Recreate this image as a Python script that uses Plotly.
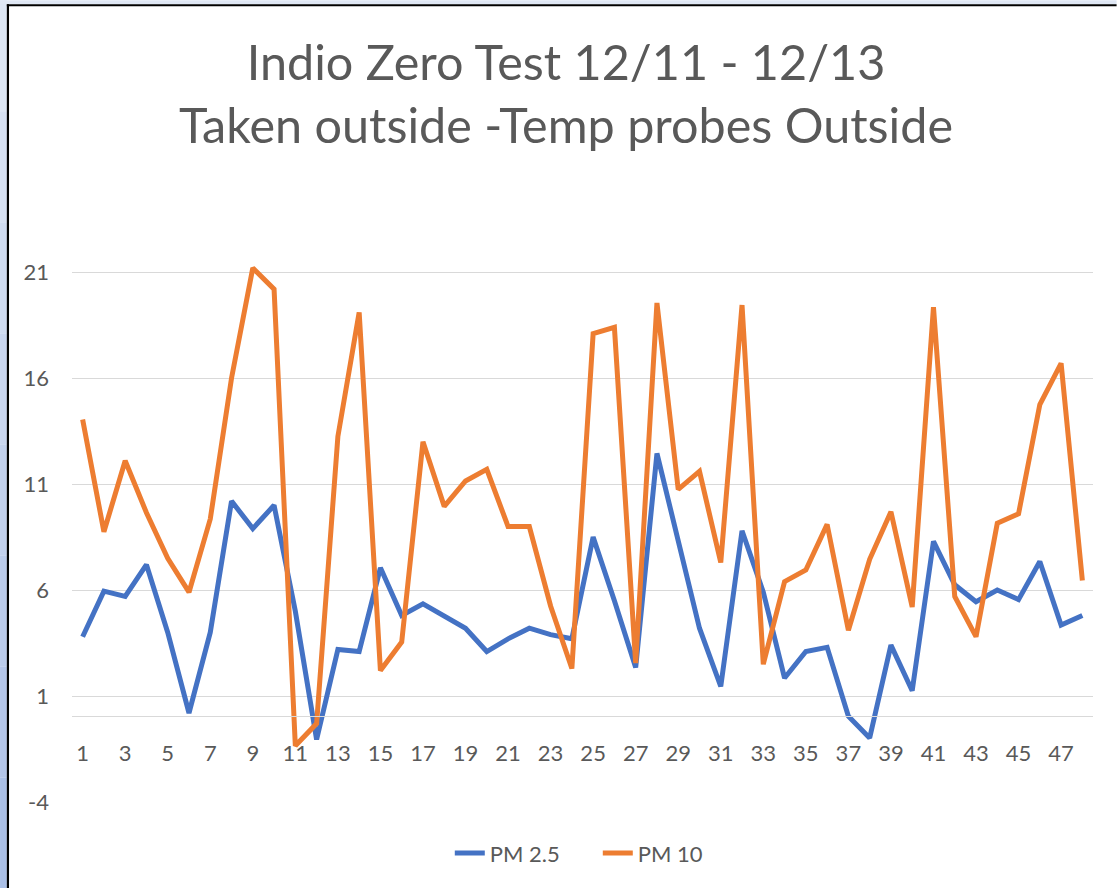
import plotly.graph_objects as go

categories = [str(i) for i in range(1, 49)]

pm25 = [3.8, 5.95, 5.7, 7.2, 4.0, 0.2, 4.0, 10.2, 8.9, 10.0,
        5.0, -1.05, 3.2, 3.1, 7.05, 4.8, 5.35, 4.8, 4.2, 3.1,
        3.7, 4.2, 3.9, 3.7, 8.5, 5.5, 2.35, 12.45, 8.2, 4.2,
        1.45, 8.8, 5.9, 1.85, 3.1, 3.3, 0.05, -0.98, 3.4, 1.25,
        8.3, 6.25, 5.45, 6.0, 5.55, 7.35, 4.35, 4.8]

pm10 = [14.05, 8.75, 12.1, 9.65, 7.5, 5.9, 9.35, 16.0, 21.2, 20.2,
        -1.35, -0.3, 13.25, 19.1, 2.2, 3.55, 13.0, 9.95, 11.15, 11.7,
        9.0, 9.0, 5.25, 2.3, 18.1, 18.4, 2.55, 19.55, 10.75, 11.6,
        7.3, 19.45, 2.5, 6.4, 6.95, 9.1, 4.1, 7.45, 9.7, 5.2,
        19.35, 5.7, 3.8, 9.15, 9.6, 14.75, 16.7, 6.45]

y_ticks = [-4, 1, 6, 11, 16, 21]
y_tick_text = ["-4", "1", "6", "11", "16", "21"]

W, H = 1117, 888
L, R, T, B = 72, 1093.4, 250.8, 801.7

def px(p):
    return (p - L) / (R - L)

def py(q):
    return (B - q) / (B - T)

fig = go.Figure()
fig.add_trace(go.Scatter(x=categories, y=pm25, mode="lines", name="PM 2.5",
                         line=dict(color="#4472C4", width=5)))
fig.add_trace(go.Scatter(x=categories, y=pm10, mode="lines", name="PM 10",
                         line=dict(color="#ED7D31", width=5)))

shapes = []
# left gradient strip
blues = ["#dde6f4", "#d6e0f2", "#cfdbf0", "#c8d5ee", "#c1d0ec", "#bacbea", "#b3c5e8", "#aabfe6"]
n = len(blues)
for i, c in enumerate(blues):
    shapes.append(dict(type="rect", xref="paper", yref="paper",
                       x0=px(0), x1=px(6.8), y0=py(H * i / n), y1=py(H * (i + 1) / n),
                       fillcolor=c, line=dict(width=0), layer="above"))
shapes.append(dict(type="rect", xref="paper", yref="paper",
                   x0=px(0), x1=px(W), y0=py(0), y1=py(4),
                   fillcolor="#dfe7f4", line=dict(width=0), layer="above"))
shapes.append(dict(type="rect", xref="paper", yref="paper",
                   x0=px(6.8), x1=px(W), y0=py(4), y1=py(6.2),
                   fillcolor="#000000", line=dict(width=0), layer="above"))
shapes.append(dict(type="rect", xref="paper", yref="paper",
                   x0=px(6.8), x1=px(9), y0=py(4), y1=py(H),
                   fillcolor="#000000", line=dict(width=0), layer="above"))

fig.update_layout(
    width=W, height=H,
    margin=dict(l=L, r=W - R, t=T, b=H - B, pad=0),
    paper_bgcolor="white", plot_bgcolor="white",
    font=dict(family="Lato, 'Open Sans', sans-serif", color="#595959", size=22),
    title=dict(text="Indio Zero Test 12/11 - 12/13<br>Taken outside -Temp probes Outside",
               x=566 / W, xanchor="center", y=1 - 80 / H, yanchor="middle",
               yref="container", xref="container",
               font=dict(size=48.5, color="#595959", family="Lato, sans-serif")),
    showlegend=True,
    legend=dict(orientation="h", x=px(598), xanchor="center", y=py(853), yanchor="middle",
                entrywidth=103, entrywidthmode="pixels",
                font=dict(size=22, color="#595959"), bgcolor="rgba(0,0,0,0)"),
    shapes=shapes,
)

fig.update_yaxes(range=[-4, 22], tickvals=y_ticks, ticktext=y_tick_text,
                 showgrid=True, gridcolor="#d9d9d9",
                 gridwidth=1.3, zeroline=False, showline=False, ticks="",
                 ticklabelstandoff=22, tickfont=dict(size=22, color="#595959"))
fig.update_xaxes(type="category", range=[-0.5, 47.5], dtick=2, tick0=0,
                 showgrid=False, zeroline=False,
                 showline=True, linecolor="#d9d9d9", linewidth=1.3,
                 anchor="free", position=py(716.2), ticks="",
                 ticklabelstandoff=17, tickfont=dict(size=22, color="#595959"))

fig.write_html("out.html", config={"displayModeBar": False},
               post_script="document.body.style.margin='0';document.body.style.overflow='hidden';")
